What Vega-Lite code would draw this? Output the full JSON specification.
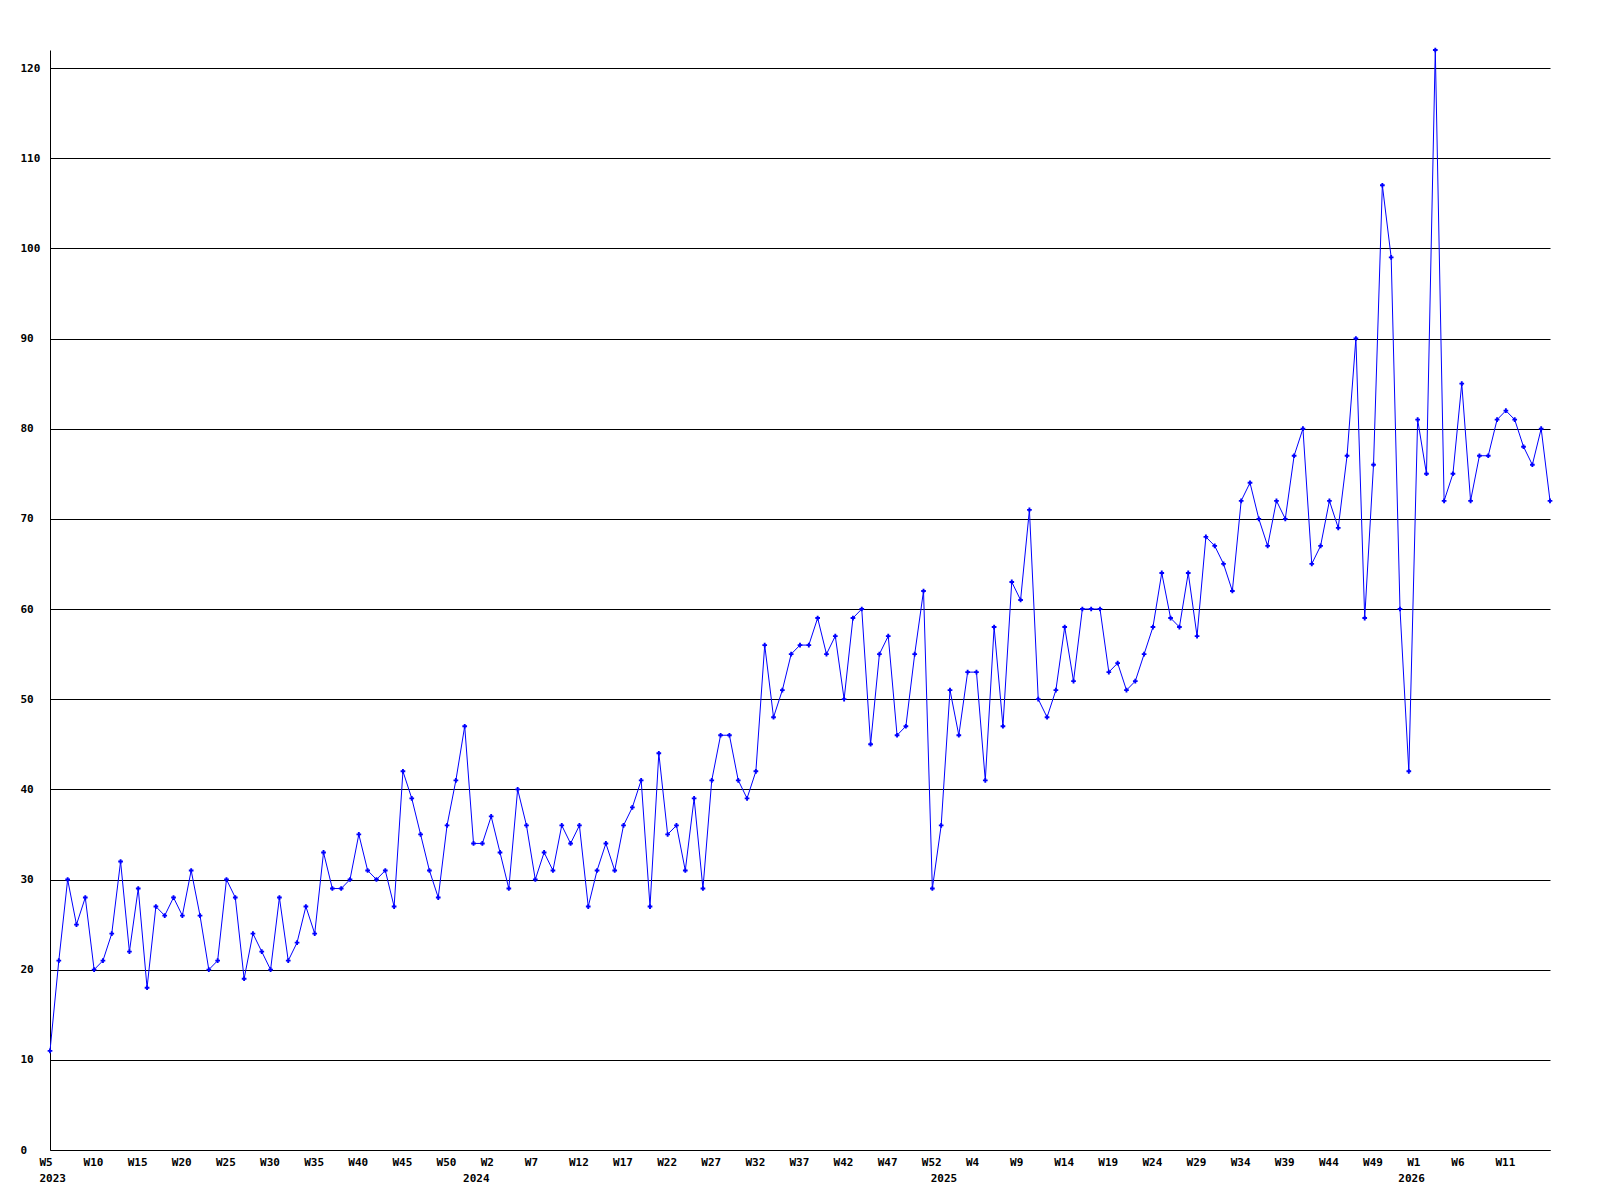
{
  "$schema": "https://vega.github.io/schema/vega-lite/v6.json",
  "autosize": "none",
  "width": 1500,
  "height": 1100,
  "padding": {"left": 50, "top": 50, "right": 50, "bottom": 50},
  "background": "#ffffff",
  "config": {
    "view": {"stroke": null},
    "font": "DejaVu Sans Mono",
    "axis": {"labelFont": "DejaVu Sans Mono", "labelFontWeight": "bold", "labelFontSize": 11, "labelColor": "#000000"}
  },
  "data": {
    "values": [
      {"week": "2023-W05", "count": 11}, {"week": "2023-W06", "count": 21}, {"week": "2023-W07", "count": 30}, {"week": "2023-W08", "count": 25},
      {"week": "2023-W09", "count": 28}, {"week": "2023-W10", "count": 20}, {"week": "2023-W11", "count": 21}, {"week": "2023-W12", "count": 24},
      {"week": "2023-W13", "count": 32}, {"week": "2023-W14", "count": 22}, {"week": "2023-W15", "count": 29}, {"week": "2023-W16", "count": 18},
      {"week": "2023-W17", "count": 27}, {"week": "2023-W18", "count": 26}, {"week": "2023-W19", "count": 28}, {"week": "2023-W20", "count": 26},
      {"week": "2023-W21", "count": 31}, {"week": "2023-W22", "count": 26}, {"week": "2023-W23", "count": 20}, {"week": "2023-W24", "count": 21},
      {"week": "2023-W25", "count": 30}, {"week": "2023-W26", "count": 28}, {"week": "2023-W27", "count": 19}, {"week": "2023-W28", "count": 24},
      {"week": "2023-W29", "count": 22}, {"week": "2023-W30", "count": 20}, {"week": "2023-W31", "count": 28}, {"week": "2023-W32", "count": 21},
      {"week": "2023-W33", "count": 23}, {"week": "2023-W34", "count": 27}, {"week": "2023-W35", "count": 24}, {"week": "2023-W36", "count": 33},
      {"week": "2023-W37", "count": 29}, {"week": "2023-W38", "count": 29}, {"week": "2023-W39", "count": 30}, {"week": "2023-W40", "count": 35},
      {"week": "2023-W41", "count": 31}, {"week": "2023-W42", "count": 30}, {"week": "2023-W43", "count": 31}, {"week": "2023-W44", "count": 27},
      {"week": "2023-W45", "count": 42}, {"week": "2023-W46", "count": 39}, {"week": "2023-W47", "count": 35}, {"week": "2023-W48", "count": 31},
      {"week": "2023-W49", "count": 28}, {"week": "2023-W50", "count": 36}, {"week": "2023-W51", "count": 41}, {"week": "2023-W52", "count": 47},
      {"week": "2024-W00", "count": 34}, {"week": "2024-W01", "count": 34}, {"week": "2024-W02", "count": 37}, {"week": "2024-W03", "count": 33},
      {"week": "2024-W04", "count": 29}, {"week": "2024-W05", "count": 40}, {"week": "2024-W06", "count": 36}, {"week": "2024-W07", "count": 30},
      {"week": "2024-W08", "count": 33}, {"week": "2024-W09", "count": 31}, {"week": "2024-W10", "count": 36}, {"week": "2024-W11", "count": 34},
      {"week": "2024-W12", "count": 36}, {"week": "2024-W13", "count": 27}, {"week": "2024-W14", "count": 31}, {"week": "2024-W15", "count": 34},
      {"week": "2024-W16", "count": 31}, {"week": "2024-W17", "count": 36}, {"week": "2024-W18", "count": 38}, {"week": "2024-W19", "count": 41},
      {"week": "2024-W20", "count": 27}, {"week": "2024-W21", "count": 44}, {"week": "2024-W22", "count": 35}, {"week": "2024-W23", "count": 36},
      {"week": "2024-W24", "count": 31}, {"week": "2024-W25", "count": 39}, {"week": "2024-W26", "count": 29}, {"week": "2024-W27", "count": 41},
      {"week": "2024-W28", "count": 46}, {"week": "2024-W29", "count": 46}, {"week": "2024-W30", "count": 41}, {"week": "2024-W31", "count": 39},
      {"week": "2024-W32", "count": 42}, {"week": "2024-W33", "count": 56}, {"week": "2024-W34", "count": 48}, {"week": "2024-W35", "count": 51},
      {"week": "2024-W36", "count": 55}, {"week": "2024-W37", "count": 56}, {"week": "2024-W38", "count": 56}, {"week": "2024-W39", "count": 59},
      {"week": "2024-W40", "count": 55}, {"week": "2024-W41", "count": 57}, {"week": "2024-W42", "count": 50}, {"week": "2024-W43", "count": 59},
      {"week": "2024-W44", "count": 60}, {"week": "2024-W45", "count": 45}, {"week": "2024-W46", "count": 55}, {"week": "2024-W47", "count": 57},
      {"week": "2024-W48", "count": 46}, {"week": "2024-W49", "count": 47}, {"week": "2024-W50", "count": 55}, {"week": "2024-W51", "count": 62},
      {"week": "2024-W52", "count": 29},
      {"week": "2025-W00", "count": 36}, {"week": "2025-W01", "count": 51}, {"week": "2025-W02", "count": 46}, {"week": "2025-W03", "count": 53},
      {"week": "2025-W04", "count": 53}, {"week": "2025-W05", "count": 41}, {"week": "2025-W06", "count": 58}, {"week": "2025-W07", "count": 47},
      {"week": "2025-W08", "count": 63}, {"week": "2025-W09", "count": 61}, {"week": "2025-W10", "count": 71}, {"week": "2025-W11", "count": 50},
      {"week": "2025-W12", "count": 48}, {"week": "2025-W13", "count": 51}, {"week": "2025-W14", "count": 58}, {"week": "2025-W15", "count": 52},
      {"week": "2025-W16", "count": 60}, {"week": "2025-W17", "count": 60}, {"week": "2025-W18", "count": 60}, {"week": "2025-W19", "count": 53},
      {"week": "2025-W20", "count": 54}, {"week": "2025-W21", "count": 51}, {"week": "2025-W22", "count": 52}, {"week": "2025-W23", "count": 55},
      {"week": "2025-W24", "count": 58}, {"week": "2025-W25", "count": 64}, {"week": "2025-W26", "count": 59}, {"week": "2025-W27", "count": 58},
      {"week": "2025-W28", "count": 64}, {"week": "2025-W29", "count": 57}, {"week": "2025-W30", "count": 68}, {"week": "2025-W31", "count": 67},
      {"week": "2025-W32", "count": 65}, {"week": "2025-W33", "count": 62}, {"week": "2025-W34", "count": 72}, {"week": "2025-W35", "count": 74},
      {"week": "2025-W36", "count": 70}, {"week": "2025-W37", "count": 67}, {"week": "2025-W38", "count": 72}, {"week": "2025-W39", "count": 70},
      {"week": "2025-W40", "count": 77}, {"week": "2025-W41", "count": 80}, {"week": "2025-W42", "count": 65}, {"week": "2025-W43", "count": 67},
      {"week": "2025-W44", "count": 72}, {"week": "2025-W45", "count": 69}, {"week": "2025-W46", "count": 77}, {"week": "2025-W47", "count": 90},
      {"week": "2025-W48", "count": 59}, {"week": "2025-W49", "count": 76}, {"week": "2025-W50", "count": 107}, {"week": "2025-W51", "count": 99},
      {"week": "2025-W52", "count": 60},
      {"week": "2026-W00", "count": 42}, {"week": "2026-W01", "count": 81}, {"week": "2026-W02", "count": 75}, {"week": "2026-W03", "count": 122},
      {"week": "2026-W04", "count": 72}, {"week": "2026-W05", "count": 75}, {"week": "2026-W06", "count": 85}, {"week": "2026-W07", "count": 72},
      {"week": "2026-W08", "count": 77}, {"week": "2026-W09", "count": 77}, {"week": "2026-W10", "count": 81}, {"week": "2026-W11", "count": 82},
      {"week": "2026-W12", "count": 81}, {"week": "2026-W13", "count": 78}, {"week": "2026-W14", "count": 76}, {"week": "2026-W15", "count": 80},
      {"week": "2026-W16", "count": 72}
    ]
  },
  "encoding": {
    "x": {
      "field": "week",
      "type": "ordinal",
      "sort": null,
      "scale": {"type": "point", "padding": 0},
      "axis": {
        "title": null,
        "values": ["2023-W05", "2023-W10", "2023-W15", "2023-W20", "2023-W25", "2023-W30", "2023-W35", "2023-W40", "2023-W45", "2023-W50",
                   "2024-W00", "2024-W02", "2024-W07", "2024-W12", "2024-W17", "2024-W22", "2024-W27", "2024-W32", "2024-W37", "2024-W42", "2024-W47", "2024-W52",
                   "2025-W00", "2025-W04", "2025-W09", "2025-W14", "2025-W19", "2025-W24", "2025-W29", "2025-W34", "2025-W39", "2025-W44", "2025-W49",
                   "2026-W00", "2026-W01", "2026-W06", "2026-W11"],
        "labelExpr": "slice(datum.value, 5) == 'W00' ? ['', slice(datum.value, 0, 4)] : (datum.value == '2023-W05' ? ['W5', '2023'] : 'W' + toNumber(slice(datum.value, 6)))",
        "labelAngle": 0,
        "labelAlign": "left",
        "labelBaseline": "top",
        "labelOffset": -11,
        "labelPadding": 6,
        "labelLineHeight": 16,
        "labelOverlap": false,
        "labelBound": false,
        "labelFlush": false,
        "ticks": false,
        "tickSize": 0,
        "grid": false,
        "domainColor": "#000000",
        "domainWidth": 1
      }
    },
    "y": {
      "field": "count",
      "type": "quantitative",
      "scale": {"domain": [0, 122], "nice": false, "zero": true},
      "axis": {
        "title": null,
        "values": [0, 10, 20, 30, 40, 50, 60, 70, 80, 90, 100, 110, 120],
        "labelAlign": "left",
        "labelBaseline": "middle",
        "labelPadding": 30,
        "labelFlush": false,
        "labelOverlap": false,
        "ticks": false,
        "tickSize": 0,
        "grid": true,
        "gridColor": "#000000",
        "gridOpacity": 1,
        "gridWidth": 1,
        "domainColor": "#000000",
        "domainWidth": 1
      }
    }
  },
  "layer": [
    {"mark": {"type": "line", "color": "#0000ff", "strokeWidth": 1, "interpolate": "linear"}},
    {"mark": {"type": "point", "shape": "cross", "filled": true, "size": 22, "color": "#0000ff", "opacity": 1}}
  ]
}
